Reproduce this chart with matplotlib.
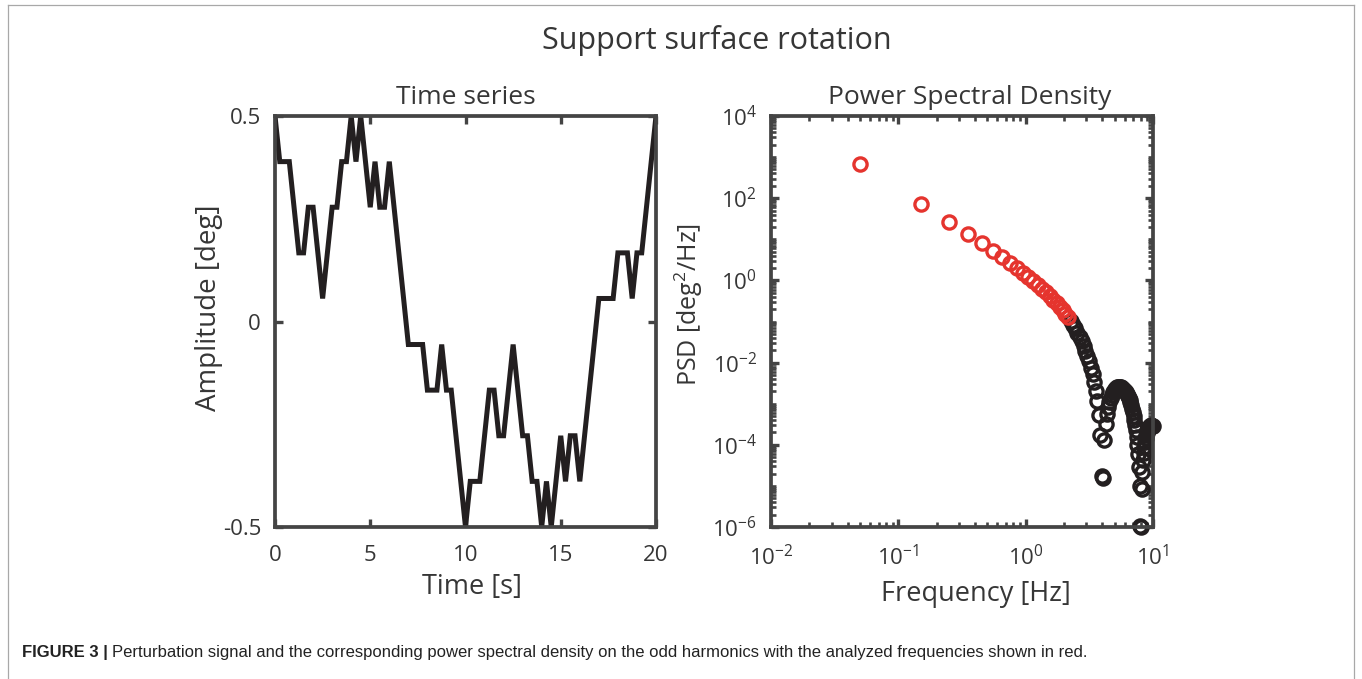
"""Support surface rotation: PRTS time series and its power spectral density."""
import matplotlib

matplotlib.use("Agg")
import matplotlib.pyplot as plt
import numpy as np
from matplotlib.lines import Line2D
from matplotlib.ticker import FixedLocator, LogLocator, NullFormatter

# --- data ---------------------------------------------------------------
# time series: one sample every 0.25 s over the 20 s period
time_s = np.linspace(0, 20, 81)
amplitude_deg = [
    0.5, 0.389, 0.389, 0.389, 0.278, 0.167, 0.167, 0.278, 0.278, 0.167,
    0.056, 0.167, 0.278, 0.278, 0.389, 0.389, 0.5, 0.389, 0.5, 0.389,
    0.278, 0.389, 0.278, 0.278, 0.389, 0.278, 0.167, 0.056, -0.056, -0.056,
    -0.056, -0.056, -0.167, -0.167, -0.167, -0.056, -0.167, -0.167, -0.278, -0.389,
    -0.5, -0.389, -0.389, -0.389, -0.278, -0.167, -0.167, -0.278, -0.278, -0.167,
    -0.056, -0.167, -0.278, -0.278, -0.389, -0.389, -0.5, -0.389, -0.5, -0.389,
    -0.278, -0.389, -0.278, -0.278, -0.389, -0.278, -0.167, -0.056, 0.056, 0.056,
    0.056, 0.056, 0.167, 0.167, 0.167, 0.056, 0.167, 0.167, 0.278, 0.389,
    0.5,
]

# PSD on the odd harmonics of 0.05 Hz (log10 of deg^2/Hz)
freq_hz = np.arange(0.05, 10.0, 0.1)
psd_log10 = [
    2.83, 1.87, 1.43, 1.13, 0.90, 0.72, 0.56, 0.43, 0.30, 0.19,
    0.09, -0.02, -0.11, -0.20, -0.29, -0.38, -0.47, -0.55, -0.64, -0.72,
    -0.81, -0.90, -0.99, -1.08, -1.17, -1.27, -1.37, -1.48, -1.59, -1.71,
    -1.84, -1.97, -2.12, -2.28, -2.47, -2.69, -2.94, -3.28, -3.76, -4.76,
    -4.80, -3.89, -3.50, -3.25, -3.08, -2.95, -2.85, -2.78, -2.72, -2.68,
    -2.64, -2.62, -2.60, -2.59, -2.59, -2.59, -2.60, -2.62, -2.64, -2.66,
    -2.69, -2.72, -2.76, -2.81, -2.86, -2.91, -2.97, -3.04, -3.12, -3.20,
    -3.29, -3.40, -3.51, -3.65, -3.81, -4.00, -4.23, -4.54, -5.00, -5.98,
    -6.00, -5.07, -4.65, -4.38, -4.19, -4.05, -3.93, -3.84, -3.77, -3.71,
    -3.66, -3.62, -3.59, -3.56, -3.55, -3.54, -3.53, -3.54, -3.54, -3.55,
]
n_analyzed = 22  # first harmonics (up to ~2.15 Hz) drawn in red

y_ticks_ts = [-0.5, 0, 0.5]
y_tick_labels_ts = ["-0.5", "0", "0.5"]
x_ticks_ts = [0, 5, 10, 15, 20]
psd_y_exponents = [4, 2, 0, -2, -4, -6]
psd_x_exponents = [-2, -1, 0, 1]

# --- style ----------------------------------------------------------------
FONT = ["Open Sans", "DejaVu Sans"]
plt.rcParams["font.family"] = FONT
plt.rcParams["mathtext.fontset"] = "custom"
plt.rcParams["mathtext.rm"] = "Open Sans"
TEXT = "#363636"
FRAME = "#444444"
LINE = "#231f20"
RED = "#e5342e"

W, H = 1362, 679
fig = plt.figure(figsize=(W / 100, H / 100), dpi=100)


def box(x0, y0, x1, y1):
    return [x0 / W, 1 - y1 / H, (x1 - x0) / W, (y1 - y0) / H]


def style_axes(ax):
    for sp in ax.spines.values():
        sp.set_linewidth(2.7)
        sp.set_color(FRAME)
    ax.tick_params(which="both", direction="in", top=True, right=True,
                   color=FRAME, labelcolor=TEXT, labelsize=16)
    ax.tick_params(which="major", length=6, width=2.4, pad=10)
    ax.tick_params(axis="x", which="major", pad=13)
    ax.tick_params(which="minor", length=3.5, width=1.9)


# time series
ax1 = fig.add_axes(box(275, 116, 656, 527))
ax1.plot(time_s, amplitude_deg, color=LINE, lw=3.6, solid_joinstyle="miter")
ax1.set_xlim(0, 20)
ax1.set_ylim(-0.5, 0.5)
ax1.set_xticks(x_ticks_ts)
ax1.set_yticks(y_ticks_ts)
ax1.set_yticklabels(y_tick_labels_ts)
style_axes(ax1)
ax1.set_title("Time series", fontsize=19, color=TEXT, pad=9)
ax1.set_xlabel("Time [s]", fontsize=19.5, color=TEXT)
ax1.set_ylabel("Amplitude [deg]", fontsize=20, color=TEXT)
ax1.xaxis.set_label_coords(0.517, -0.112)
ax1.yaxis.set_label_coords(-0.136, 0.533)

# power spectral density
psd = 10.0 ** np.array(psd_log10)
ax2 = fig.add_axes(box(771, 116, 1153, 527))
ax2.plot(freq_hz[n_analyzed:], psd[n_analyzed:], ls="none", marker="o",
         ms=9.5, mfc="none", mec=LINE, mew=2.4, clip_on=False)
ax2.plot(freq_hz[:n_analyzed], psd[:n_analyzed], ls="none", marker="o",
         ms=9.5, mfc="none", mec=RED, mew=2.4, clip_on=False)
ax2.set_xscale("log")
ax2.set_yscale("log")
ax2.set_xlim(1e-2, 1e1)
ax2.set_ylim(1e-6, 1e4)
ax2.xaxis.set_major_locator(FixedLocator([10.0 ** e for e in psd_x_exponents]))
ax2.set_xticklabels([rf"$\mathregular{{10^{{{e}}}}}$" for e in psd_x_exponents])
ax2.xaxis.set_minor_locator(LogLocator(base=10, subs=np.arange(2, 10), numticks=50))
ax2.xaxis.set_minor_formatter(NullFormatter())
ax2.yaxis.set_major_locator(FixedLocator([10.0 ** e for e in psd_y_exponents]))
ax2.set_yticklabels([rf"$\mathregular{{10^{{{e}}}}}$" for e in psd_y_exponents])
ax2.yaxis.set_minor_locator(LogLocator(base=10, subs=np.arange(1, 10), numticks=50))
ax2.yaxis.set_minor_formatter(NullFormatter())
style_axes(ax2)
ax2.set_title("Power Spectral Density", fontsize=19, color=TEXT, pad=9, x=0.521)
ax2.set_xlabel("Frequency [Hz]", fontsize=19.5, color=TEXT)
ax2.set_ylabel(r"PSD [deg$\mathregular{^2}$/Hz]", fontsize=18, color=TEXT)
ax2.xaxis.set_label_coords(0.537, -0.128)
ax2.yaxis.set_label_coords(-0.173, 0.540)

fig.text(717 / W, 1 - 40 / H, "Support surface rotation", ha="center", va="center",
         fontsize=22, color=TEXT)

# outer frame
for xs, ys in [((8, 8), (5, H)), ((1354, 1354), (5, H)), ((8, 1354), (5, 5))]:
    fig.add_artist(Line2D([x / W for x in xs], [1 - y / H for y in ys],
                          color="#a8a8a8", lw=0.9))

# caption
cap_font = ["Liberation Sans Narrow", "Liberation Sans", "DejaVu Sans"]
bold = fig.text(22 / W, 1 - 653 / H, "FIGURE 3 |", fontsize=12, weight="bold",
                va="center", family=cap_font, color="#222222")
fig.canvas.draw()
bb = bold.get_window_extent()
fig.text((bb.x1 + 4) / W, 1 - 653 / H,
         "Perturbation signal and the corresponding power spectral density on the odd "
         "harmonics with the analyzed frequencies shown in red.",
         fontsize=12, va="center", family=cap_font, color="#222222")

fig.savefig("out.png", dpi=100)
